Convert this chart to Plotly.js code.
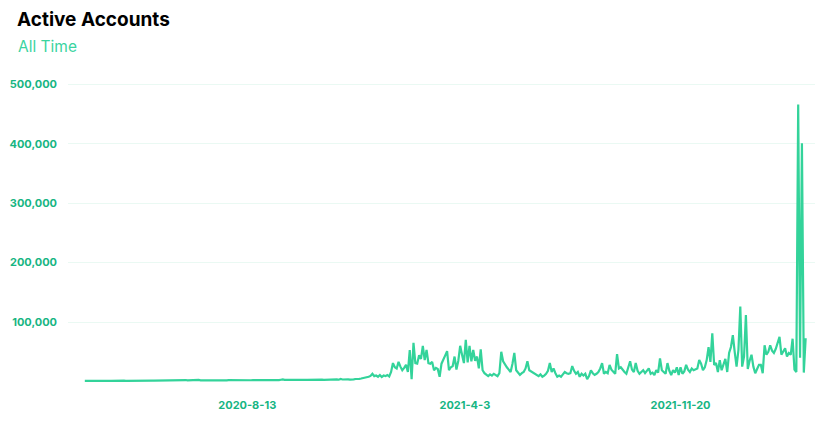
<!DOCTYPE html>
<html>
<head>
<meta charset="utf-8">
<script src="https://cdn.plot.ly/plotly-3.0.1.min.js"></script>
<style>
  html, body { margin: 0; padding: 0; background: #ffffff; }
  #chart { width: 821px; height: 422px; }
</style>
</head>
<body>
<div id="chart"></div>
<script>
// ---- data ----
const chartTitle = "Active Accounts";
const chartSubtitle = "All Time";
const startDate = "2020-02-21";   // first sample
const stepDays = 2;               // one sample every 2 days
const activeAccounts = [
  1000,1100,1000,1200,1100,1000,1200,1100,1300,1200,
  1100,1200,1300,1200,1100,1300,1200,1400,1300,1200,
  1300,1400,1200,1300,1400,1300,1500,1400,1300,1400,
  1500,1400,1300,1500,1400,1600,1500,1400,1500,1600,
  1500,1400,1600,1500,1700,1600,1500,1600,1700,1600,
  1800,2300,1700,1900,2500,1800,2000,2600,1900,1800,
  2200,2700,1900,2100,1800,2000,2200,1900,2100,2000,
  2100,1900,2200,2000,2100,2300,2000,2200,2100,2000,
  2200,2100,2300,2000,2200,2400,2100,2300,2200,2100,
  2300,2200,2400,2300,2200,2400,2500,2300,2400,2200,
  2400,2500,2300,2600,2400,3000,3600,2800,2500,2600,
  2500,2700,2600,2800,2600,2700,2900,2700,2800,2600,
  2800,3000,2700,2900,3100,2800,3000,3200,2900,3100,
  3000,3400,2800,3800,3200,3600,3000,4200,3400,3800,
  3300,3700,3200,4000,3500,4200,3800,4500,5000,5600,
  6000,7500,8000,9500,13000,9000,10000,8000,11000,7500,
  10000,9000,11000,8500,16000,31000,24000,22000,33000,25000,
  19000,23000,28000,16000,53000,4000,65000,31000,30000,44000,
  38000,60000,36000,53000,31000,30000,33000,19000,23000,21000,
  8000,30000,36000,44000,51000,19000,24000,26000,42000,20000,
  35000,60000,45000,31000,70000,32000,60000,34000,53000,35000,
  42000,22000,54000,19000,14000,11000,9000,12000,10000,13000,
  11000,9000,14000,50000,34000,28000,24000,20000,16000,30000,
  48000,19000,15000,11000,14000,16000,22000,34000,19000,17000,
  16000,13000,11000,9000,12000,8000,10000,13000,18000,31000,
  16000,22000,14000,8000,10000,8000,12000,16000,14000,13000,
  14000,26000,18000,13000,16000,8000,13000,10000,13000,4000,
  9000,19000,14000,11000,13000,16000,22000,31000,13000,16000,
  14000,28000,20000,16000,13000,46000,22000,24000,19000,16000,
  13000,22000,34000,20000,16000,31000,18000,13000,16000,19000,
  14000,18000,22000,13000,15000,11000,19000,15000,39000,19000,
  16000,13000,31000,18000,11000,19000,15000,24000,11000,24000,
  13000,17000,28000,20000,16000,22000,19000,20000,22000,36000,
  30000,19000,24000,36000,58000,33000,81000,28000,31000,16000,
  36000,19000,28000,38000,16000,48000,58000,78000,50000,25000,
  53000,126000,25000,42000,112000,21000,35000,45000,25000,14000,
  21000,28000,28000,14000,61000,45000,50000,61000,52000,48000,
  55000,64000,75000,45000,50000,56000,42000,48000,45000,72000,
  20000,16000,466000,40000,401000,15000,73000
];
const xTickVals = ["2020-08-13", "2021-04-03", "2021-11-20"];
const xTickText = ["2020-8-13", "2021-4-3", "2021-11-20"];
const yTickVals = [100000, 200000, 300000, 400000, 500000];
const yTickText = ["100,000", "200,000", "300,000", "400,000", "500,000"];

// ---- build dates ----
function addDays(iso, n) {
  const d = new Date(iso + "T00:00:00Z");
  d.setUTCDate(d.getUTCDate() + n);
  return d.toISOString().slice(0, 10);
}
const dates = activeAccounts.map((_, i) => addDays(startDate, i * stepDays));

const green = "#33d39a";
const tickGreen = "#17b583";

const trace = {
  x: dates,
  y: activeAccounts,
  type: "scatter",
  mode: "lines",
  line: { color: green, width: 2.2 },
  hoverinfo: "x+y"
};

const layout = {
  width: 821,
  height: 422,
  margin: { l: 68, r: 6, t: 82, b: 39 },
  paper_bgcolor: "#ffffff",
  plot_bgcolor: "#ffffff",
  showlegend: false,
  font: { family: "Inter, 'Open Sans', sans-serif" },
  title: {
    text: "<b>" + chartTitle + "</b>",
    font: { size: 19, color: "#000000", family: "Inter, 'Open Sans', sans-serif" },
    xref: "container", yref: "container",
    x: 17 / 821, xanchor: "left",
    y: 1 - 19 / 422, yanchor: "middle"
  },
  annotations: [{
    text: chartSubtitle,
    xref: "paper", yref: "paper",
    x: (16 - 68) / 747, xanchor: "left",
    y: (383 - 46) / (383 - 82), yanchor: "middle",
    showarrow: false,
    font: { size: 15.5, color: "#3ad49f", family: "Inter, 'Open Sans', sans-serif" }
  }],
  xaxis: {
    type: "date",
    range: [addDays(startDate, -18), addDays(startDate, (activeAccounts.length - 1) * stepDays + 10)],
    tickvals: xTickVals,
    ticktext: xTickText,
    tickfont: { size: 11, color: tickGreen, family: "Inter, 'Open Sans', sans-serif", weight: "bold" },
    showgrid: false,
    zeroline: false,
    showline: false,
    ticks: "",
    ticklabelstandoff: 14,
    fixedrange: true
  },
  yaxis: {
    range: [-2500, 503860],
    tickvals: yTickVals,
    ticktext: yTickText,
    tickfont: { size: 11, color: tickGreen, family: "Inter, 'Open Sans', sans-serif", weight: "bold" },
    showgrid: true,
    gridcolor: "#eaf9f3",
    gridwidth: 1,
    zeroline: false,
    showline: false,
    ticks: "",
    ticklabelstandoff: 10,
    fixedrange: true
  }
};

Plotly.newPlot("chart", [trace], layout, { displayModeBar: false, staticPlot: true });
</script>
</body>
</html>
